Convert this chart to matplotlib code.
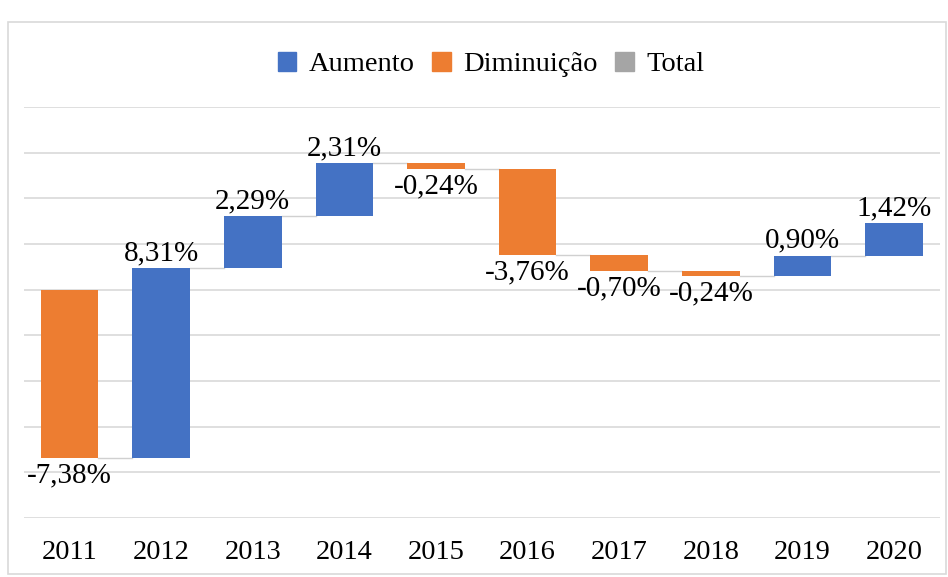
import numpy as np
import matplotlib
matplotlib.use("Agg")
import matplotlib.pyplot as plt
from matplotlib.patches import Patch, Rectangle

# waterfall data: yearly variation in %
years = ["2011", "2012", "2013", "2014", "2015", "2016", "2017", "2018", "2019", "2020"]
changes = [-7.38, 8.31, 2.29, 2.31, -0.24, -3.76, -0.70, -0.24, 0.90, 1.42]
legend_labels = ["Aumento", "Diminuição", "Total"]

blue = "#4472C4"
orange = "#ED7D31"
gray = "#A5A5A5"

plt.rcParams["font.family"] = ["Liberation Serif", "DejaVu Serif"]

fig = plt.figure(figsize=(9.48, 5.77), dpi=100)
ax = fig.add_axes([0.025, 0.102, 0.9665, 0.7126])

ch = np.array(changes)
ends = np.cumsum(ch)
starts = ends - ch
x = np.arange(len(years))
width = 0.63

colors = [blue if c > 0 else orange for c in ch]
ax.bar(x, ch, width, bottom=starts, color=colors, zorder=3)

# connector lines between bars
for i in range(len(years) - 1):
    ax.plot([x[i] + width / 2, x[i + 1] - width / 2], [ends[i], ends[i]],
            color="#D0D0D0", lw=1.0, zorder=2)

# value labels: above for increases, below for decreases
for i, c in enumerate(ch):
    txt = ("%.2f%%" % c).replace(".", ",")
    if c > 0:
        ax.text(x[i], ends[i] + 0.08, txt, ha="center", va="bottom", fontsize=21, zorder=4)
    else:
        ax.text(x[i], ends[i] - 0.2, txt, ha="center", va="top", fontsize=21, zorder=4)

ax.set_xlim(-0.5, len(years) - 0.5)
ax.set_ylim(-10, 8)
ax.set_yticks(np.arange(-10, 9, 2))
ax.set_yticklabels([])
ax.set_xticks(x)
ax.set_xticklabels(years, fontsize=20.5)
ax.tick_params(axis="both", length=0)
ax.tick_params(axis="x", pad=16)
ax.grid(axis="y", color="#D9D9D9", lw=1.2, zorder=0)
for s in ax.spines.values():
    s.set_visible(False)

handles = [Patch(color=blue), Patch(color=orange), Patch(color=gray)]
fig.legend(handles, legend_labels, loc="center", bbox_to_anchor=(0.518, 0.888),
           ncol=3, frameon=False, fontsize=20.5, handlelength=0.65, handleheight=0.65,
           handletextpad=0.45, columnspacing=0.6)

# light frame around the chart
fig.patches.append(Rectangle((0.008, 0.005), 0.99, 0.957, transform=fig.transFigure,
                             fill=False, edgecolor="#D9D9D9", lw=1.2))

fig.savefig("out.png", dpi=100)
